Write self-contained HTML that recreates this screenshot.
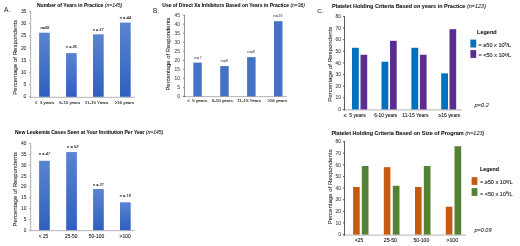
<!DOCTYPE html>
<html><head><meta charset="utf-8"><title>Figure</title>
<style>
html,body{margin:0;padding:0;background:#fff;}
body{width:520px;height:246px;overflow:hidden;font-family:"Liberation Sans",sans-serif;}
svg{display:block;will-change:transform;}
svg text{font-family:"Liberation Sans",sans-serif;}
</style></head><body>
<svg width="520" height="246" viewBox="0 0 520 246">
<defs>
<linearGradient id="gA" x1="0" y1="0" x2="0" y2="1"><stop offset="0" stop-color="#5a84d2"/><stop offset="1" stop-color="#2f5fc0"/></linearGradient>
</defs>
<rect width="520" height="246" fill="#fff"/>
<text x="4.0" y="12.0" font-size="6.5" text-anchor="start" font-weight="normal" font-style="normal" fill="#222" stroke="#222" stroke-width="0.03" >A.</text>
<text x="37" y="6.7" font-size="5.0" text-anchor="start" font-weight="bold" font-style="normal" fill="#111" textLength="85.2" lengthAdjust="spacingAndGlyphs" stroke="#111" stroke-width="0.06" >Number of Years in Practice <tspan font-weight="normal" font-style="italic">(n=145)</tspan></text>
<line x1="29.15" y1="97.30" x2="135.00" y2="97.30" stroke="#b4b4b4" stroke-width="1.0"/>
<line x1="30.65" y1="10.90" x2="30.65" y2="97.80" stroke="#a6a6a6" stroke-width="0.9"/>
<line x1="29.15" y1="96.80" x2="30.65" y2="96.80" stroke="#a6a6a6" stroke-width="0.9"/>
<text x="26.349999999999998" y="98.45" font-size="4.9" text-anchor="end" font-weight="normal" font-style="normal" fill="#2a2a2a" stroke="#2a2a2a" stroke-width="0.05" >0</text>
<line x1="29.15" y1="84.59" x2="30.65" y2="84.59" stroke="#a6a6a6" stroke-width="0.9"/>
<text x="26.349999999999998" y="86.24" font-size="4.9" text-anchor="end" font-weight="normal" font-style="normal" fill="#2a2a2a" stroke="#2a2a2a" stroke-width="0.05" >5</text>
<line x1="29.15" y1="72.37" x2="30.65" y2="72.37" stroke="#a6a6a6" stroke-width="0.9"/>
<text x="26.349999999999998" y="74.02" font-size="4.9" text-anchor="end" font-weight="normal" font-style="normal" fill="#2a2a2a" stroke="#2a2a2a" stroke-width="0.05" >10</text>
<line x1="29.15" y1="60.16" x2="30.65" y2="60.16" stroke="#a6a6a6" stroke-width="0.9"/>
<text x="26.349999999999998" y="61.81" font-size="4.9" text-anchor="end" font-weight="normal" font-style="normal" fill="#2a2a2a" stroke="#2a2a2a" stroke-width="0.05" >15</text>
<line x1="29.15" y1="47.94" x2="30.65" y2="47.94" stroke="#a6a6a6" stroke-width="0.9"/>
<text x="26.349999999999998" y="49.59" font-size="4.9" text-anchor="end" font-weight="normal" font-style="normal" fill="#2a2a2a" stroke="#2a2a2a" stroke-width="0.05" >20</text>
<line x1="29.15" y1="35.73" x2="30.65" y2="35.73" stroke="#a6a6a6" stroke-width="0.9"/>
<text x="26.349999999999998" y="37.38" font-size="4.9" text-anchor="end" font-weight="normal" font-style="normal" fill="#2a2a2a" stroke="#2a2a2a" stroke-width="0.05" >25</text>
<line x1="29.15" y1="23.51" x2="30.65" y2="23.51" stroke="#a6a6a6" stroke-width="0.9"/>
<text x="26.349999999999998" y="25.16" font-size="4.9" text-anchor="end" font-weight="normal" font-style="normal" fill="#2a2a2a" stroke="#2a2a2a" stroke-width="0.05" >30</text>
<line x1="29.15" y1="11.30" x2="30.65" y2="11.30" stroke="#a6a6a6" stroke-width="0.9"/>
<text x="26.349999999999998" y="12.95" font-size="4.9" text-anchor="end" font-weight="normal" font-style="normal" fill="#2a2a2a" stroke="#2a2a2a" stroke-width="0.05" >35</text>
<text x="17.3" y="57.2" font-size="6.05" text-anchor="middle" font-weight="normal" font-style="normal" fill="#1a1a1a" textLength="75" lengthAdjust="spacingAndGlyphs" transform="rotate(-90 17.3 57.2)" stroke="#1a1a1a" stroke-width="0.06">Percentage of Respondents</text>
<rect x="39.10" y="32.70" width="10.70" height="64.10" fill="url(#gA)"/>
<text x="44.65" y="104.4" font-size="4.4" text-anchor="middle" font-weight="normal" font-style="normal" fill="#2a2a2a" textLength="19.1" lengthAdjust="spacingAndGlyphs" stroke="#2a2a2a" stroke-width="0.1" >≤&#160; 5 years</text>
<text x="44.8" y="29.1" font-size="4.0" text-anchor="middle" font-weight="normal" font-style="italic" fill="#222" textLength="8.8" lengthAdjust="spacingAndGlyphs" stroke="#222" stroke-width="0.08">n=38</text>
<rect x="66.05" y="53.10" width="10.70" height="43.70" fill="url(#gA)"/>
<text x="69.75" y="104.4" font-size="4.4" text-anchor="middle" font-weight="normal" font-style="normal" fill="#2a2a2a" textLength="20.9" lengthAdjust="spacingAndGlyphs" stroke="#2a2a2a" stroke-width="0.1" >6-10 years</text>
<text x="71.4" y="47.5" font-size="4.0" text-anchor="middle" font-weight="normal" font-style="italic" fill="#222" textLength="10.6" lengthAdjust="spacingAndGlyphs" stroke="#222" stroke-width="0.08">n = 26</text>
<rect x="93.00" y="34.30" width="10.70" height="62.50" fill="url(#gA)"/>
<text x="96.6" y="104.4" font-size="4.4" text-anchor="middle" font-weight="normal" font-style="normal" fill="#2a2a2a" textLength="23.5" lengthAdjust="spacingAndGlyphs" stroke="#2a2a2a" stroke-width="0.1" >11-15 Years</text>
<text x="98.25" y="30.8" font-size="4.0" text-anchor="middle" font-weight="normal" font-style="italic" fill="#222" textLength="10.8" lengthAdjust="spacingAndGlyphs" stroke="#222" stroke-width="0.08">n = 37</text>
<rect x="120.00" y="22.60" width="10.70" height="74.20" fill="url(#gA)"/>
<text x="124.3" y="104.4" font-size="4.4" text-anchor="middle" font-weight="normal" font-style="normal" fill="#2a2a2a" textLength="19.3" lengthAdjust="spacingAndGlyphs" stroke="#2a2a2a" stroke-width="0.1" >≥16 years</text>
<text x="125.35" y="19.1" font-size="4.0" text-anchor="middle" font-weight="normal" font-style="italic" fill="#222" textLength="11.0" lengthAdjust="spacingAndGlyphs" stroke="#222" stroke-width="0.08">n = 44</text>
<text x="15" y="133.8" font-size="5.0" text-anchor="start" font-weight="bold" font-style="normal" fill="#111" textLength="148.3" lengthAdjust="spacingAndGlyphs" stroke="#111" stroke-width="0.06" >New Leukemia Cases Seen at Your Institution Per Year <tspan font-weight="normal" font-style="italic">(n=145)</tspan></text>
<line x1="29.20" y1="230.70" x2="135.00" y2="230.70" stroke="#b4b4b4" stroke-width="1.0"/>
<line x1="30.70" y1="143.00" x2="30.70" y2="231.20" stroke="#a6a6a6" stroke-width="0.9"/>
<line x1="29.20" y1="230.20" x2="30.70" y2="230.20" stroke="#a6a6a6" stroke-width="0.9"/>
<text x="26.4" y="231.85" font-size="4.9" text-anchor="end" font-weight="normal" font-style="normal" fill="#2a2a2a" stroke="#2a2a2a" stroke-width="0.05" >0</text>
<line x1="29.20" y1="219.35" x2="30.70" y2="219.35" stroke="#a6a6a6" stroke-width="0.9"/>
<text x="26.4" y="221.0" font-size="4.9" text-anchor="end" font-weight="normal" font-style="normal" fill="#2a2a2a" stroke="#2a2a2a" stroke-width="0.05" >5</text>
<line x1="29.20" y1="208.50" x2="30.70" y2="208.50" stroke="#a6a6a6" stroke-width="0.9"/>
<text x="26.4" y="210.15" font-size="4.9" text-anchor="end" font-weight="normal" font-style="normal" fill="#2a2a2a" stroke="#2a2a2a" stroke-width="0.05" >10</text>
<line x1="29.20" y1="197.65" x2="30.70" y2="197.65" stroke="#a6a6a6" stroke-width="0.9"/>
<text x="26.4" y="199.3" font-size="4.9" text-anchor="end" font-weight="normal" font-style="normal" fill="#2a2a2a" stroke="#2a2a2a" stroke-width="0.05" >15</text>
<line x1="29.20" y1="186.80" x2="30.70" y2="186.80" stroke="#a6a6a6" stroke-width="0.9"/>
<text x="26.4" y="188.45" font-size="4.9" text-anchor="end" font-weight="normal" font-style="normal" fill="#2a2a2a" stroke="#2a2a2a" stroke-width="0.05" >20</text>
<line x1="29.20" y1="175.95" x2="30.70" y2="175.95" stroke="#a6a6a6" stroke-width="0.9"/>
<text x="26.4" y="177.6" font-size="4.9" text-anchor="end" font-weight="normal" font-style="normal" fill="#2a2a2a" stroke="#2a2a2a" stroke-width="0.05" >25</text>
<line x1="29.20" y1="165.10" x2="30.70" y2="165.10" stroke="#a6a6a6" stroke-width="0.9"/>
<text x="26.4" y="166.75" font-size="4.9" text-anchor="end" font-weight="normal" font-style="normal" fill="#2a2a2a" stroke="#2a2a2a" stroke-width="0.05" >30</text>
<line x1="29.20" y1="154.25" x2="30.70" y2="154.25" stroke="#a6a6a6" stroke-width="0.9"/>
<text x="26.4" y="155.9" font-size="4.9" text-anchor="end" font-weight="normal" font-style="normal" fill="#2a2a2a" stroke="#2a2a2a" stroke-width="0.05" >35</text>
<line x1="29.20" y1="143.40" x2="30.70" y2="143.40" stroke="#a6a6a6" stroke-width="0.9"/>
<text x="26.4" y="145.05" font-size="4.9" text-anchor="end" font-weight="normal" font-style="normal" fill="#2a2a2a" stroke="#2a2a2a" stroke-width="0.05" >40</text>
<text x="17.3" y="189.2" font-size="6.05" text-anchor="middle" font-weight="normal" font-style="normal" fill="#1a1a1a" textLength="74.5" lengthAdjust="spacingAndGlyphs" transform="rotate(-90 17.3 189.2)" stroke="#1a1a1a" stroke-width="0.06">Percentage of Respondents</text>
<rect x="39.10" y="160.80" width="10.70" height="69.40" fill="url(#gA)"/>
<text x="43.5" y="238.2" font-size="5.0" text-anchor="middle" font-weight="normal" font-style="normal" fill="#2a2a2a" textLength="9.5" lengthAdjust="spacingAndGlyphs" stroke="#2a2a2a" stroke-width="0.1" >&lt; 25</text>
<text x="44.6" y="154.5" font-size="4.0" text-anchor="middle" font-weight="normal" font-style="italic" fill="#222" textLength="11.0" lengthAdjust="spacingAndGlyphs" stroke="#222" stroke-width="0.08">n = 47</text>
<rect x="66.20" y="152.05" width="10.70" height="78.15" fill="url(#gA)"/>
<text x="71.25" y="238.2" font-size="5.0" text-anchor="middle" font-weight="normal" font-style="normal" fill="#2a2a2a" textLength="12.5" lengthAdjust="spacingAndGlyphs" stroke="#2a2a2a" stroke-width="0.1" >25-50</text>
<text x="72.7" y="148.4" font-size="4.0" text-anchor="middle" font-weight="normal" font-style="italic" fill="#222" textLength="11.4" lengthAdjust="spacingAndGlyphs" stroke="#222" stroke-width="0.08">n = 52</text>
<rect x="93.10" y="189.00" width="10.70" height="41.20" fill="url(#gA)"/>
<text x="96.5" y="238.2" font-size="5.0" text-anchor="middle" font-weight="normal" font-style="normal" fill="#2a2a2a" textLength="15.5" lengthAdjust="spacingAndGlyphs" stroke="#2a2a2a" stroke-width="0.1" >50-100</text>
<text x="98.5" y="185.6" font-size="4.0" text-anchor="middle" font-weight="normal" font-style="italic" fill="#222" textLength="11.0" lengthAdjust="spacingAndGlyphs" stroke="#222" stroke-width="0.08">n = 27</text>
<rect x="120.00" y="202.30" width="10.70" height="27.90" fill="url(#gA)"/>
<text x="125.1" y="238.2" font-size="5.0" text-anchor="middle" font-weight="normal" font-style="normal" fill="#2a2a2a" textLength="11.25" lengthAdjust="spacingAndGlyphs" stroke="#2a2a2a" stroke-width="0.1" >&gt;100</text>
<text x="125.35" y="197.3" font-size="4.0" text-anchor="middle" font-weight="normal" font-style="italic" fill="#222" textLength="11.0" lengthAdjust="spacingAndGlyphs" stroke="#222" stroke-width="0.08">n = 19</text>
<text x="153.0" y="12.6" font-size="6.4" text-anchor="start" font-weight="normal" font-style="normal" fill="#222" stroke="#222" stroke-width="0.03" >B.</text>
<text x="162.3" y="7.4" font-size="4.96" text-anchor="start" font-weight="bold" font-style="normal" fill="#111" textLength="142.6" lengthAdjust="spacingAndGlyphs" stroke="#111" stroke-width="0.06" >Use of Direct Xa Inhibitors Based on Years in Practice <tspan font-weight="normal" font-style="italic">(n=36)</tspan></text>
<line x1="182.95" y1="96.60" x2="286.70" y2="96.60" stroke="#b4b4b4" stroke-width="1.0"/>
<line x1="184.45" y1="14.80" x2="184.45" y2="97.10" stroke="#444" stroke-width="0.6"/>
<line x1="182.95" y1="96.40" x2="184.45" y2="96.40" stroke="#444" stroke-width="0.6"/>
<text x="179.9" y="98.05" font-size="4.8" text-anchor="end" font-weight="normal" font-style="normal" fill="#444" stroke="#444" stroke-width="0.05" >0</text>
<line x1="182.95" y1="87.38" x2="184.45" y2="87.38" stroke="#444" stroke-width="0.6"/>
<text x="179.9" y="89.03" font-size="4.8" text-anchor="end" font-weight="normal" font-style="normal" fill="#444" stroke="#444" stroke-width="0.05" >5</text>
<line x1="182.95" y1="78.36" x2="184.45" y2="78.36" stroke="#444" stroke-width="0.6"/>
<text x="179.9" y="80.01" font-size="4.8" text-anchor="end" font-weight="normal" font-style="normal" fill="#444" stroke="#444" stroke-width="0.05" >10</text>
<line x1="182.95" y1="69.33" x2="184.45" y2="69.33" stroke="#444" stroke-width="0.6"/>
<text x="179.9" y="70.98" font-size="4.8" text-anchor="end" font-weight="normal" font-style="normal" fill="#444" stroke="#444" stroke-width="0.05" >15</text>
<line x1="182.95" y1="60.31" x2="184.45" y2="60.31" stroke="#444" stroke-width="0.6"/>
<text x="179.9" y="61.96" font-size="4.8" text-anchor="end" font-weight="normal" font-style="normal" fill="#444" stroke="#444" stroke-width="0.05" >20</text>
<line x1="182.95" y1="51.29" x2="184.45" y2="51.29" stroke="#444" stroke-width="0.6"/>
<text x="179.9" y="52.94" font-size="4.8" text-anchor="end" font-weight="normal" font-style="normal" fill="#444" stroke="#444" stroke-width="0.05" >25</text>
<line x1="182.95" y1="42.27" x2="184.45" y2="42.27" stroke="#444" stroke-width="0.6"/>
<text x="179.9" y="43.92" font-size="4.8" text-anchor="end" font-weight="normal" font-style="normal" fill="#444" stroke="#444" stroke-width="0.05" >30</text>
<line x1="182.95" y1="33.24" x2="184.45" y2="33.24" stroke="#444" stroke-width="0.6"/>
<text x="179.9" y="34.89" font-size="4.8" text-anchor="end" font-weight="normal" font-style="normal" fill="#444" stroke="#444" stroke-width="0.05" >35</text>
<line x1="182.95" y1="24.22" x2="184.45" y2="24.22" stroke="#444" stroke-width="0.6"/>
<text x="179.9" y="25.87" font-size="4.8" text-anchor="end" font-weight="normal" font-style="normal" fill="#444" stroke="#444" stroke-width="0.05" >40</text>
<line x1="182.95" y1="15.20" x2="184.45" y2="15.20" stroke="#444" stroke-width="0.6"/>
<text x="179.9" y="16.85" font-size="4.8" text-anchor="end" font-weight="normal" font-style="normal" fill="#444" stroke="#444" stroke-width="0.05" >45</text>
<text x="169.8" y="54.05" font-size="5.9" text-anchor="middle" font-weight="normal" font-style="normal" fill="#1a1a1a" textLength="73.1" lengthAdjust="spacingAndGlyphs" transform="rotate(-90 169.8 54.05)" stroke="#1a1a1a" stroke-width="0.06">Percentage of Respondents</text>
<rect x="193.30" y="62.65" width="8.50" height="33.75" fill="#4472c4"/>
<text x="197.2" y="102.3" font-size="4.3" text-anchor="middle" font-weight="normal" font-style="normal" fill="#2a2a2a" textLength="20.0" lengthAdjust="spacingAndGlyphs" stroke="#2a2a2a" stroke-width="0.1" >≤&#160; 5 years</text>
<text x="197.9" y="58.6" font-size="3.9" text-anchor="middle" font-weight="normal" font-style="italic" fill="#505050" textLength="7.6" lengthAdjust="spacingAndGlyphs" stroke="#505050" stroke-width="0.03" >n=7</text>
<rect x="220.20" y="66.10" width="8.50" height="30.30" fill="#4472c4"/>
<text x="222.3" y="102.3" font-size="4.3" text-anchor="middle" font-weight="normal" font-style="normal" fill="#2a2a2a" textLength="20.7" lengthAdjust="spacingAndGlyphs" stroke="#2a2a2a" stroke-width="0.1" >6-10 years</text>
<text x="224.3" y="62.3" font-size="3.9" text-anchor="middle" font-weight="normal" font-style="italic" fill="#505050" textLength="7.4" lengthAdjust="spacingAndGlyphs" stroke="#505050" stroke-width="0.03" >n=6</text>
<rect x="247.10" y="57.20" width="8.50" height="39.20" fill="#4472c4"/>
<text x="249.1" y="102.3" font-size="4.3" text-anchor="middle" font-weight="normal" font-style="normal" fill="#2a2a2a" textLength="23.8" lengthAdjust="spacingAndGlyphs" stroke="#2a2a2a" stroke-width="0.1" >11-15 Years</text>
<text x="251.0" y="53.4" font-size="3.9" text-anchor="middle" font-weight="normal" font-style="italic" fill="#505050" textLength="7.4" lengthAdjust="spacingAndGlyphs" stroke="#505050" stroke-width="0.03" >n=8</text>
<rect x="274.00" y="21.20" width="8.50" height="75.20" fill="#4472c4"/>
<text x="277.2" y="102.3" font-size="4.3" text-anchor="middle" font-weight="normal" font-style="normal" fill="#2a2a2a" textLength="19.6" lengthAdjust="spacingAndGlyphs" stroke="#2a2a2a" stroke-width="0.1" >≥16 years</text>
<text x="278.0" y="17.2" font-size="3.9" text-anchor="middle" font-weight="normal" font-style="italic" fill="#505050" textLength="9.4" lengthAdjust="spacingAndGlyphs" stroke="#505050" stroke-width="0.03" >n=15</text>
<text x="317.3" y="12.6" font-size="6.2" text-anchor="start" font-weight="normal" font-style="normal" fill="#222" stroke="#222" stroke-width="0.03" >C.</text>
<text x="332.0" y="7.6" font-size="5.5" text-anchor="start" font-weight="bold" font-style="normal" fill="#111" textLength="154" lengthAdjust="spacingAndGlyphs" stroke="#111" stroke-width="0.06" >Platelet Holding Criteria Based on years in Practice <tspan font-weight="normal" font-style="italic">(n=123)</tspan></text>
<line x1="343.00" y1="109.90" x2="461.80" y2="109.90" stroke="#b4b4b4" stroke-width="1.0"/>
<line x1="344.50" y1="16.00" x2="344.50" y2="110.40" stroke="#333" stroke-width="0.8"/>
<line x1="343.00" y1="109.40" x2="344.50" y2="109.40" stroke="#333" stroke-width="0.8"/>
<text x="340.9" y="111.05" font-size="4.9" text-anchor="end" font-weight="normal" font-style="normal" fill="#3a3a3a" stroke="#3a3a3a" stroke-width="0.05" >0</text>
<line x1="343.00" y1="97.78" x2="344.50" y2="97.78" stroke="#333" stroke-width="0.8"/>
<text x="340.9" y="99.43" font-size="4.9" text-anchor="end" font-weight="normal" font-style="normal" fill="#3a3a3a" stroke="#3a3a3a" stroke-width="0.05" >10</text>
<line x1="343.00" y1="86.15" x2="344.50" y2="86.15" stroke="#333" stroke-width="0.8"/>
<text x="340.9" y="87.8" font-size="4.9" text-anchor="end" font-weight="normal" font-style="normal" fill="#3a3a3a" stroke="#3a3a3a" stroke-width="0.05" >20</text>
<line x1="343.00" y1="74.53" x2="344.50" y2="74.53" stroke="#333" stroke-width="0.8"/>
<text x="340.9" y="76.18" font-size="4.9" text-anchor="end" font-weight="normal" font-style="normal" fill="#3a3a3a" stroke="#3a3a3a" stroke-width="0.05" >30</text>
<line x1="343.00" y1="62.90" x2="344.50" y2="62.90" stroke="#333" stroke-width="0.8"/>
<text x="340.9" y="64.55" font-size="4.9" text-anchor="end" font-weight="normal" font-style="normal" fill="#3a3a3a" stroke="#3a3a3a" stroke-width="0.05" >40</text>
<line x1="343.00" y1="51.28" x2="344.50" y2="51.28" stroke="#333" stroke-width="0.8"/>
<text x="340.9" y="52.93" font-size="4.9" text-anchor="end" font-weight="normal" font-style="normal" fill="#3a3a3a" stroke="#3a3a3a" stroke-width="0.05" >50</text>
<line x1="343.00" y1="39.65" x2="344.50" y2="39.65" stroke="#333" stroke-width="0.8"/>
<text x="340.9" y="41.3" font-size="4.9" text-anchor="end" font-weight="normal" font-style="normal" fill="#3a3a3a" stroke="#3a3a3a" stroke-width="0.05" >60</text>
<line x1="343.00" y1="28.03" x2="344.50" y2="28.03" stroke="#333" stroke-width="0.8"/>
<text x="340.9" y="29.68" font-size="4.9" text-anchor="end" font-weight="normal" font-style="normal" fill="#3a3a3a" stroke="#3a3a3a" stroke-width="0.05" >70</text>
<line x1="343.00" y1="16.40" x2="344.50" y2="16.40" stroke="#333" stroke-width="0.8"/>
<text x="340.9" y="18.05" font-size="4.9" text-anchor="end" font-weight="normal" font-style="normal" fill="#3a3a3a" stroke="#3a3a3a" stroke-width="0.05" >80</text>
<text x="331.6" y="64.2" font-size="6.05" text-anchor="middle" font-weight="normal" font-style="normal" fill="#1a1a1a" textLength="75.2" lengthAdjust="spacingAndGlyphs" transform="rotate(-90 331.6 64.2)" stroke="#1a1a1a" stroke-width="0.06">Percentage of Respondents</text>
<rect x="352.00" y="47.79" width="6.80" height="61.61" fill="#0070c0"/>
<rect x="360.50" y="54.76" width="6.70" height="54.64" fill="#5b2d90"/>
<text x="354.8" y="117.2" font-size="4.85" text-anchor="middle" font-weight="normal" font-style="normal" fill="#222" textLength="22.0" lengthAdjust="spacingAndGlyphs" stroke="#222" stroke-width="0.1" >≤&#160; 5 years</text>
<rect x="381.50" y="61.74" width="6.80" height="47.66" fill="#0070c0"/>
<rect x="390.00" y="40.81" width="6.70" height="68.59" fill="#5b2d90"/>
<text x="385.7" y="117.2" font-size="4.85" text-anchor="middle" font-weight="normal" font-style="normal" fill="#222" textLength="23.0" lengthAdjust="spacingAndGlyphs" stroke="#222" stroke-width="0.1" >6-10 years</text>
<rect x="411.40" y="47.79" width="6.80" height="61.61" fill="#0070c0"/>
<rect x="419.90" y="54.76" width="6.70" height="54.64" fill="#5b2d90"/>
<text x="415.4" y="117.2" font-size="4.85" text-anchor="middle" font-weight="normal" font-style="normal" fill="#222" textLength="26.2" lengthAdjust="spacingAndGlyphs" stroke="#222" stroke-width="0.1" >11-15 Years</text>
<rect x="441.20" y="73.36" width="6.80" height="36.04" fill="#0070c0"/>
<rect x="449.50" y="29.19" width="6.70" height="80.21" fill="#5b2d90"/>
<text x="449.4" y="117.2" font-size="4.85" text-anchor="middle" font-weight="normal" font-style="normal" fill="#222" textLength="21.8" lengthAdjust="spacingAndGlyphs" stroke="#222" stroke-width="0.1" >≥16 years</text>
<text x="477" y="34.2" font-size="5.5" text-anchor="start" font-weight="bold" font-style="normal" fill="#111" textLength="19.7" lengthAdjust="spacingAndGlyphs" stroke="#111" stroke-width="0.06" >Legend</text>
<rect x="470.40" y="39.60" width="5.80" height="7.90" fill="#0070c0"/>
<rect x="470.40" y="50.10" width="5.80" height="7.80" fill="#5b2d90"/>
<text x="478.5" y="47.1" font-size="5.3" text-anchor="start" font-weight="normal" font-style="normal" fill="#222" textLength="32.6" lengthAdjust="spacingAndGlyphs" stroke="#222" stroke-width="0.1" >= ≥50 x 10<tspan font-size="3.2" dy="-1.9">9</tspan><tspan dy="1.9">/L</tspan></text>
<text x="478.5" y="57.4" font-size="5.3" text-anchor="start" font-weight="normal" font-style="normal" fill="#222" textLength="32.6" lengthAdjust="spacingAndGlyphs" stroke="#222" stroke-width="0.1" >= &lt;50 x 10<tspan font-size="3.2" dy="-1.9">9</tspan><tspan dy="1.9">/L</tspan></text>
<text x="474.4" y="107.1" font-size="5.5" text-anchor="start" font-weight="normal" font-style="italic" fill="#222" textLength="14.5" lengthAdjust="spacingAndGlyphs" stroke="#222" stroke-width="0.05" >p=0.2</text>
<text x="331.4" y="135.2" font-size="5.5" text-anchor="start" font-weight="bold" font-style="normal" fill="#111" textLength="153" lengthAdjust="spacingAndGlyphs" stroke="#111" stroke-width="0.06" >Platelet Holding Criteria Based on Size of Program <tspan font-weight="normal" font-style="italic">(n=123)</tspan></text>
<line x1="343.00" y1="235.10" x2="466.00" y2="235.10" stroke="#b4b4b4" stroke-width="1.0"/>
<line x1="344.50" y1="141.20" x2="344.50" y2="235.60" stroke="#333" stroke-width="0.8"/>
<line x1="343.00" y1="234.60" x2="344.50" y2="234.60" stroke="#333" stroke-width="0.8"/>
<text x="340.9" y="236.25" font-size="4.9" text-anchor="end" font-weight="normal" font-style="normal" fill="#3a3a3a" stroke="#3a3a3a" stroke-width="0.05" >0</text>
<line x1="343.00" y1="222.97" x2="344.50" y2="222.97" stroke="#333" stroke-width="0.8"/>
<text x="340.9" y="224.62" font-size="4.9" text-anchor="end" font-weight="normal" font-style="normal" fill="#3a3a3a" stroke="#3a3a3a" stroke-width="0.05" >10</text>
<line x1="343.00" y1="211.35" x2="344.50" y2="211.35" stroke="#333" stroke-width="0.8"/>
<text x="340.9" y="213.0" font-size="4.9" text-anchor="end" font-weight="normal" font-style="normal" fill="#3a3a3a" stroke="#3a3a3a" stroke-width="0.05" >20</text>
<line x1="343.00" y1="199.72" x2="344.50" y2="199.72" stroke="#333" stroke-width="0.8"/>
<text x="340.9" y="201.38" font-size="4.9" text-anchor="end" font-weight="normal" font-style="normal" fill="#3a3a3a" stroke="#3a3a3a" stroke-width="0.05" >30</text>
<line x1="343.00" y1="188.10" x2="344.50" y2="188.10" stroke="#333" stroke-width="0.8"/>
<text x="340.9" y="189.75" font-size="4.9" text-anchor="end" font-weight="normal" font-style="normal" fill="#3a3a3a" stroke="#3a3a3a" stroke-width="0.05" >40</text>
<line x1="343.00" y1="176.47" x2="344.50" y2="176.47" stroke="#333" stroke-width="0.8"/>
<text x="340.9" y="178.12" font-size="4.9" text-anchor="end" font-weight="normal" font-style="normal" fill="#3a3a3a" stroke="#3a3a3a" stroke-width="0.05" >50</text>
<line x1="343.00" y1="164.85" x2="344.50" y2="164.85" stroke="#333" stroke-width="0.8"/>
<text x="340.9" y="166.5" font-size="4.9" text-anchor="end" font-weight="normal" font-style="normal" fill="#3a3a3a" stroke="#3a3a3a" stroke-width="0.05" >60</text>
<line x1="343.00" y1="153.22" x2="344.50" y2="153.22" stroke="#333" stroke-width="0.8"/>
<text x="340.9" y="154.88" font-size="4.9" text-anchor="end" font-weight="normal" font-style="normal" fill="#3a3a3a" stroke="#3a3a3a" stroke-width="0.05" >70</text>
<line x1="343.00" y1="141.60" x2="344.50" y2="141.60" stroke="#333" stroke-width="0.8"/>
<text x="340.9" y="143.25" font-size="4.9" text-anchor="end" font-weight="normal" font-style="normal" fill="#3a3a3a" stroke="#3a3a3a" stroke-width="0.05" >80</text>
<text x="331.6" y="186.8" font-size="6.05" text-anchor="middle" font-weight="normal" font-style="normal" fill="#1a1a1a" textLength="75" lengthAdjust="spacingAndGlyphs" transform="rotate(-90 331.6 186.8)" stroke="#1a1a1a" stroke-width="0.06">Percentage of Respondents</text>
<rect x="353.10" y="186.94" width="6.60" height="47.66" fill="#c55a11"/>
<rect x="361.80" y="166.01" width="6.70" height="68.59" fill="#548235"/>
<text x="359.0" y="241.6" font-size="5.0" text-anchor="middle" font-weight="normal" font-style="normal" fill="#222" textLength="8.2" lengthAdjust="spacingAndGlyphs" stroke="#222" stroke-width="0.1" >&lt;25</text>
<rect x="383.80" y="167.18" width="6.60" height="67.42" fill="#c55a11"/>
<rect x="392.80" y="185.77" width="6.70" height="48.83" fill="#548235"/>
<text x="390.35" y="241.6" font-size="5.0" text-anchor="middle" font-weight="normal" font-style="normal" fill="#222" textLength="13.1" lengthAdjust="spacingAndGlyphs" stroke="#222" stroke-width="0.1" >25-50</text>
<rect x="415.00" y="186.94" width="6.60" height="47.66" fill="#c55a11"/>
<rect x="423.80" y="166.01" width="6.70" height="68.59" fill="#548235"/>
<text x="421.35" y="241.6" font-size="5.0" text-anchor="middle" font-weight="normal" font-style="normal" fill="#222" textLength="15.7" lengthAdjust="spacingAndGlyphs" stroke="#222" stroke-width="0.1" >50-100</text>
<rect x="445.80" y="206.70" width="6.60" height="27.90" fill="#c55a11"/>
<rect x="454.50" y="146.25" width="6.70" height="88.35" fill="#548235"/>
<text x="452.3" y="241.6" font-size="5.0" text-anchor="middle" font-weight="normal" font-style="normal" fill="#222" textLength="11.6" lengthAdjust="spacingAndGlyphs" stroke="#222" stroke-width="0.1" >&gt;100</text>
<text x="479.9" y="171.3" font-size="5.5" text-anchor="start" font-weight="bold" font-style="normal" fill="#111" textLength="19.2" lengthAdjust="spacingAndGlyphs" stroke="#111" stroke-width="0.06" >Legend</text>
<rect x="471.60" y="177.20" width="5.80" height="7.70" fill="#c55a11"/>
<rect x="471.60" y="188.10" width="5.80" height="7.80" fill="#548235"/>
<text x="479.9" y="184.4" font-size="5.3" text-anchor="start" font-weight="normal" font-style="normal" fill="#222" textLength="32.6" lengthAdjust="spacingAndGlyphs" stroke="#222" stroke-width="0.1" >= ≥50 x 10<tspan font-size="3.2" dy="-1.9">9</tspan><tspan dy="1.9">/L</tspan></text>
<text x="479.9" y="195.5" font-size="5.3" text-anchor="start" font-weight="normal" font-style="normal" fill="#222" textLength="32.6" lengthAdjust="spacingAndGlyphs" stroke="#222" stroke-width="0.1" >= &lt;50 x 10<tspan font-size="3.2" dy="-1.9">9</tspan><tspan dy="1.9">/L</tspan></text>
<text x="474.5" y="231.8" font-size="5.5" text-anchor="start" font-weight="normal" font-style="italic" fill="#222" textLength="17.0" lengthAdjust="spacingAndGlyphs" stroke="#222" stroke-width="0.05" >p=0.09</text>
</svg></body></html>
